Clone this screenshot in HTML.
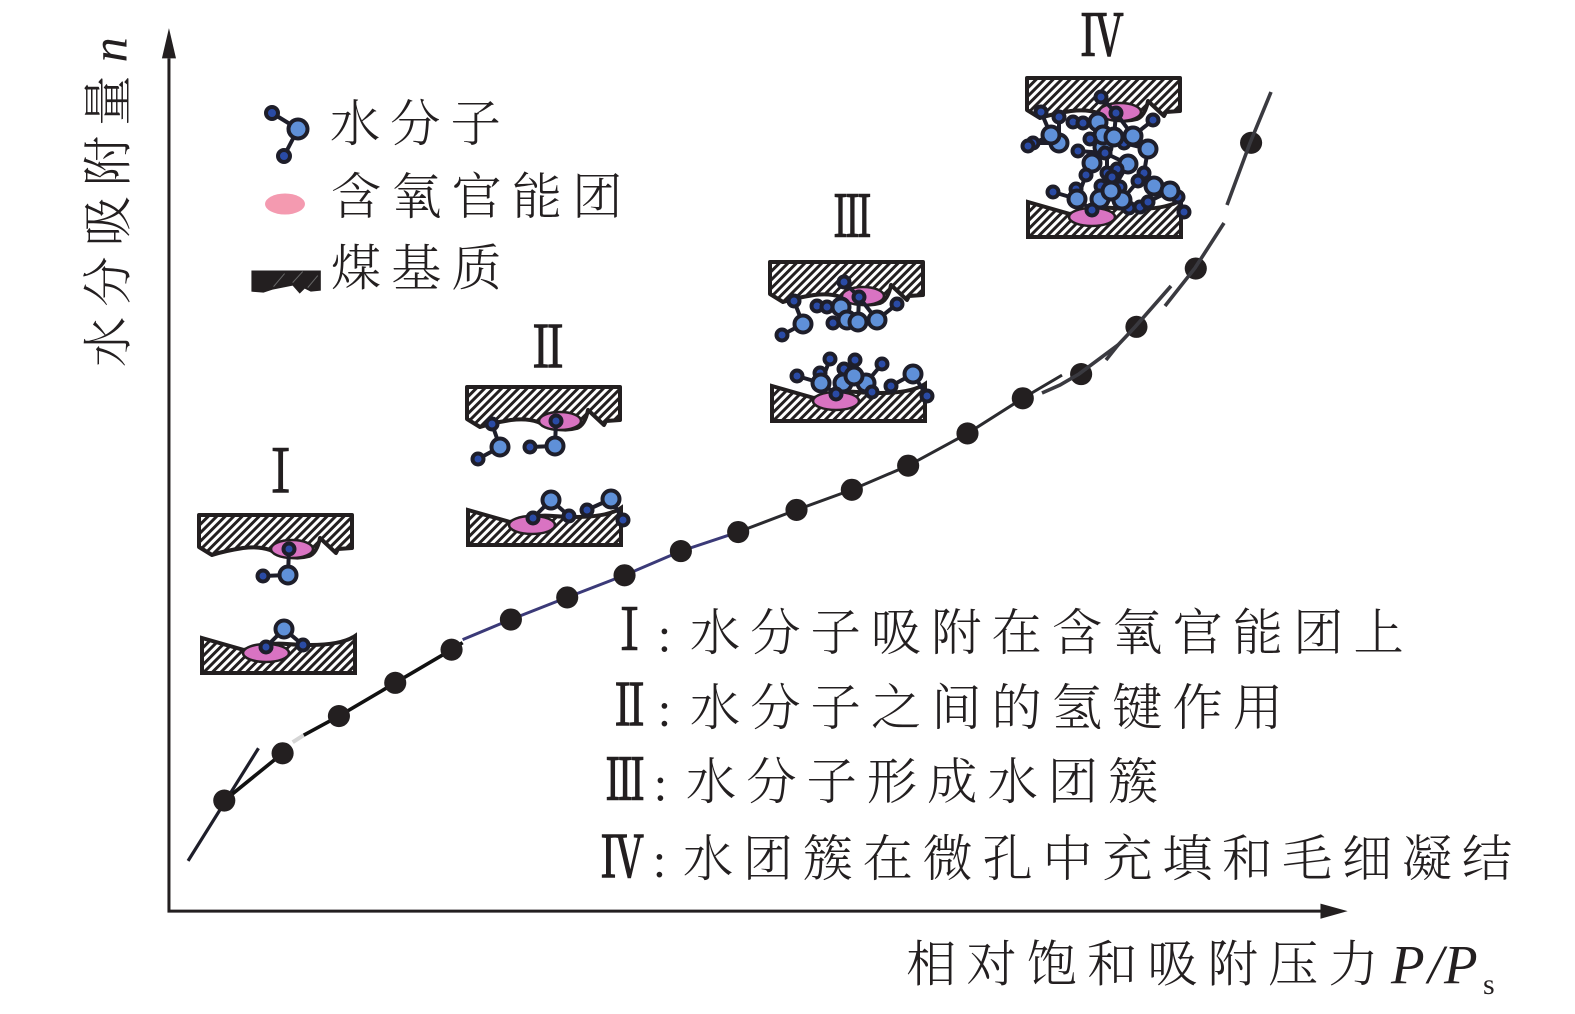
<!DOCTYPE html>
<html><head><meta charset="utf-8">
<style>
html,body{margin:0;padding:0;background:#fff}
svg{display:block}
text{font-family:"Liberation Serif","Noto Serif CJK SC",serif;fill:#231f20}
.c{font-family:"Noto Serif CJK SC","Liberation Serif",serif;font-size:50px;font-weight:300;letter-spacing:10px}
.r{font-size:56px;text-anchor:middle;stroke:#231f20;stroke-width:1.6}
.s{fill:#2a4ba6;stroke:#1e1e2a;stroke-width:4}
.b{fill:#5f90d8;stroke:#1e1e2a;stroke-width:4}
.m .s{r:5.5px}
.m .b{r:8.5px}
.l line{stroke:#1e1e2a;stroke-width:4}
.d circle{fill:#231f20}
</style></head><body>
<svg width="1575" height="1014" viewBox="0 0 1575 1014" xmlns="http://www.w3.org/2000/svg">
<defs>
<pattern id="h" width="6" height="6" patternUnits="userSpaceOnUse" patternTransform="rotate(45)">
<rect width="6" height="6" fill="#fff"/><rect width="3" height="6" fill="#231f20"/></pattern>
<g id="top">
<path d="M0 0H153V33L139 34L137 38L121 23Q118 38 110 41Q92 46 71 35Q60 31 44 33Q25 36 13 40L0 32Z" fill="url(#h)" stroke="#231f20" stroke-width="4" stroke-linejoin="round"/>
<ellipse cx="93" cy="34" rx="21" ry="9" fill="#d973c2" stroke="#231f20" stroke-width="2.5"/>
</g>
<g id="bot">
<path d="M0 0L42 12Q65 4 85 6Q135 10 153 -2V35H0Z" fill="url(#h)" stroke="#231f20" stroke-width="4"/>
<ellipse cx="64" cy="15" rx="23" ry="9" fill="#d973c2" stroke="#231f20" stroke-width="2.5"/>
</g>
</defs>
<rect width="1575" height="1014" fill="#fff"/>

<g transform="scale(1.0057)">
<!-- axes -->
<path d="M168 58V906H1316" fill="none" stroke="#231f20" stroke-width="3"/>
<path d="M168 28L161 58H175Z" fill="#231f20"/>
<path d="M1340 906L1313 898.5V913.5Z" fill="#231f20"/>

<!-- curve -->
<g fill="none">
<path d="M187 856L257 744" stroke="#1e1e2a" stroke-width="3.2"/>
<path d="M223 796L281 749" stroke="#111" stroke-width="3.6"/>
<path d="M291 738L302 731" stroke="#d5d5d5" stroke-width="4"/>
<path d="M302 731L337 712L393 679L449 646L460 639" stroke="#111" stroke-width="3.6"/>
<path d="M460 636L508 616L564 594L621 572L677 548L734 529" stroke="#3b3a78" stroke-width="3"/>
<path d="M734 529L792 507L847 487L903 463L962 431L1017 396L1056 373" stroke="#2b2b2f" stroke-width="3"/>
</g>
<g class="d">
<circle cx="223" cy="796" r="11"/><circle cx="281" cy="749" r="11"/><circle cx="337" cy="712" r="11"/><circle cx="393" cy="679" r="11"/><circle cx="449" cy="646" r="11"/><circle cx="508" cy="616" r="11"/><circle cx="564" cy="594" r="11"/><circle cx="621" cy="572" r="11"/><circle cx="677" cy="548" r="11"/><circle cx="734" cy="529" r="11"/><circle cx="792" cy="507" r="11"/><circle cx="847" cy="487" r="11"/><circle cx="903" cy="463" r="11"/><circle cx="962" cy="431" r="11"/><circle cx="1017" cy="396" r="11"/><circle cx="1075" cy="372" r="11"/><circle cx="1130" cy="325" r="11"/><circle cx="1189" cy="267" r="11"/><circle cx="1244" cy="142" r="11"/>
</g>

<!-- legend shapes -->
<path d="M250 269H319V289L309 290L303 287L298 292L291 284L281 286L271 288L262 291L250 290Z" fill="#231f20"/>
<path d="M272 285L283 272M291 281L301 270M306 286L316 274" stroke="#666" stroke-width="1" fill="none"/>

<!-- labels -->
<text class="c" x="328" y="140">水分子</text>
<text class="c" x="329" y="213">含氧官能团</text>
<text class="c" x="329" y="284">煤基质</text>

<text class="r" transform="translate(279 489) scale(.73 1)" style="font-size:58px">Ⅰ</text>
<text class="r" transform="translate(545 365) scale(.77 1)">Ⅱ</text>
<text class="r" transform="translate(847.5 235) scale(.68 1)">Ⅲ</text>
<text class="r" transform="translate(1096 55) scale(.76 1)">Ⅳ</text>

<text class="r" transform="translate(626 646) scale(.73 1)">Ⅰ</text>
<text class="r" transform="translate(626 721) scale(.74 1)">Ⅱ</text>
<text class="r" transform="translate(621.5 795) scale(.7 1)">Ⅲ</text>
<text class="r" transform="translate(619 872) scale(.76 1)">Ⅳ</text>
<text x="654" y="648" font-size="48">:</text>
<text x="654" y="722" font-size="48">:</text>
<text x="650" y="796" font-size="48">:</text>
<text x="649" y="872" font-size="48">:</text>
<text class="c" x="686" y="646.5">水分子吸附在含氧官能团上</text>
<text class="c" x="686" y="721">水分子之间的氢键作用</text>
<text class="c" x="682" y="794.5">水分子形成水团簇</text>
<text class="c" x="679" y="871" style="letter-spacing:9.6px">水团簇在微孔中充填和毛细凝结</text>

<text class="c" x="901" y="976">相对饱和吸附压力</text>

<text class="c" transform="translate(125 365) rotate(-90)">水分吸附量</text>
<text transform="translate(126 62) rotate(-90)" font-size="50" font-style="italic">n</text>
</g>

<text x="1391" y="983" font-size="55" font-style="italic">P</text>
<text x="1428" y="983" font-size="55" font-style="italic">/</text>
<text x="1444" y="983" font-size="55" font-style="italic">P</text>
<text x="1483" y="994" font-size="30">s</text>

<!-- upper curve -->
<g fill="none" stroke="#3a3a40" stroke-width="3.6">
<path d="M1042 393L1060 385L1079 374L1118 345L1135 327L1171 286"/>
<path d="M1165 306L1195 268L1224 223"/>
<path d="M1106 360L1118 345"/>
<path d="M1227 205L1250 143L1271 92"/>
</g>

<!-- plates -->
<use href="#top" x="199" y="515"/><use href="#bot" x="202" y="638"/>
<use href="#top" x="467" y="387"/><use href="#bot" x="468" y="510"/>
<use href="#top" x="770" y="262"/><use href="#bot" x="772" y="386"/>
<use href="#top" x="1027" y="78"/><use href="#bot" x="1028" y="202"/>

<!-- legend molecule -->
<g class="l"><line x1="272" y1="113" x2="298" y2="129"/><line x1="298" y1="129" x2="284" y2="156"/></g>
<circle class="s" cx="272" cy="113" r="6"/><circle class="b" cx="298" cy="129" r="9.5"/><circle class="s" cx="284" cy="156" r="6"/>
<ellipse cx="285" cy="204" rx="20" ry="10.5" fill="#f49ab0"/>

<g class="m">
<!-- I molecules -->
<g class="l"><line x1="289" y1="549" x2="288" y2="575"/><line x1="288" y1="575" x2="263" y2="576"/><line x1="284" y1="629" x2="266" y2="647"/><line x1="284" y1="629" x2="303" y2="645"/></g>
<circle class="s" cx="289" cy="549" r="5"/><circle class="b" cx="288" cy="575" r="7.5"/><circle class="s" cx="263" cy="576" r="5"/>
<circle class="b" cx="284" cy="629" r="7.5"/><circle class="s" cx="266" cy="647" r="5"/><circle class="s" cx="303" cy="645" r="5"/>

<!-- II molecules -->
<g class="l"><line x1="492" y1="424" x2="500" y2="447"/><line x1="500" y1="447" x2="478" y2="459"/><line x1="530" y1="447" x2="555" y2="446"/><line x1="555" y1="446" x2="556" y2="421"/><line x1="551" y1="500" x2="533" y2="518"/><line x1="551" y1="500" x2="569" y2="516"/><line x1="587" y1="510" x2="611" y2="499"/><line x1="611" y1="499" x2="623" y2="520"/></g>
<circle class="s" cx="492" cy="424" r="5"/><circle class="b" cx="500" cy="447" r="7.5"/><circle class="s" cx="478" cy="459" r="5"/><circle class="s" cx="530" cy="447" r="5"/><circle class="b" cx="555" cy="446" r="7.5"/><circle class="s" cx="556" cy="421" r="5"/>
<circle class="b" cx="551" cy="500" r="8"/><circle class="s" cx="533" cy="518" r="5"/><circle class="s" cx="569" cy="516" r="5"/><circle class="s" cx="587" cy="510" r="5"/><circle class="b" cx="611" cy="499" r="8"/><circle class="s" cx="623" cy="520" r="5"/>

<!-- III molecules -->
<g class="l">
<line x1="794" y1="301" x2="803" y2="324"/><line x1="803" y1="324" x2="782" y2="335"/><line x1="817" y1="306" x2="841" y2="307"/><line x1="841" y1="307" x2="858" y2="322"/><line x1="859" y1="297" x2="858" y2="322"/><line x1="859" y1="297" x2="877" y2="320"/><line x1="877" y1="320" x2="897" y2="304"/><line x1="833" y1="323" x2="847" y2="320"/><line x1="844" y1="282" x2="859" y2="297"/>
<line x1="830" y1="359" x2="821" y2="383"/><line x1="797" y1="376" x2="821" y2="383"/><line x1="821" y1="383" x2="836" y2="394"/><line x1="854" y1="376" x2="855" y2="360"/><line x1="854" y1="376" x2="836" y2="394"/><line x1="854" y1="376" x2="872" y2="392"/><line x1="882" y1="364" x2="866" y2="383"/><line x1="891" y1="386" x2="913" y2="374"/><line x1="913" y1="374" x2="927" y2="396"/>
</g>
<circle class="s" cx="844" cy="282" r="5"/><circle class="s" cx="794" cy="301" r="5"/><circle class="b" cx="803" cy="324" r="7.5"/><circle class="s" cx="782" cy="335" r="5"/><circle class="s" cx="817" cy="306" r="5"/><circle class="s" cx="827" cy="307" r="5"/><circle class="b" cx="841" cy="307" r="7.5"/><circle class="b" cx="847" cy="320" r="7.5"/><circle class="s" cx="833" cy="323" r="5"/><circle class="b" cx="858" cy="322" r="7.5"/><circle class="b" cx="877" cy="320" r="7.5"/><circle class="s" cx="897" cy="304" r="5"/><circle class="s" cx="859" cy="297" r="5"/>
<circle class="s" cx="830" cy="359" r="5"/><circle class="s" cx="797" cy="376" r="5"/><circle class="s" cx="820" cy="373" r="5"/><circle class="b" cx="821" cy="383" r="7.5"/><circle class="s" cx="844" cy="369" r="5"/><circle class="b" cx="843" cy="383" r="7.5"/><circle class="b" cx="866" cy="383" r="7.5"/><circle class="b" cx="854" cy="376" r="7.5"/><circle class="s" cx="855" cy="360" r="5"/><circle class="s" cx="882" cy="364" r="5"/><circle class="s" cx="872" cy="392" r="5"/><circle class="s" cx="891" cy="386" r="5"/><circle class="b" cx="913" cy="374" r="8"/><circle class="s" cx="927" cy="396" r="5"/><circle class="s" cx="836" cy="394" r="5"/>

<!-- IV molecules -->
<g class="l">
<line x1="1041" y1="112" x2="1051" y2="135"/><line x1="1059" y1="117" x2="1059" y2="143"/><line x1="1051" y1="135" x2="1028" y2="146"/><line x1="1059" y1="143" x2="1033" y2="143"/><line x1="1073" y1="122" x2="1098" y2="122"/><line x1="1098" y1="122" x2="1114" y2="137"/><line x1="1116" y1="113" x2="1114" y2="137"/><line x1="1116" y1="113" x2="1133" y2="136"/><line x1="1133" y1="136" x2="1153" y2="120"/><line x1="1090" y1="139" x2="1103" y2="135"/><line x1="1124" y1="143" x2="1148" y2="149"/><line x1="1148" y1="149" x2="1144" y2="173"/><line x1="1078" y1="151" x2="1105" y2="153"/><line x1="1105" y1="153" x2="1092" y2="163"/><line x1="1105" y1="153" x2="1128" y2="164"/><line x1="1092" y1="163" x2="1086" y2="175"/><line x1="1128" y1="164" x2="1117" y2="169"/><line x1="1107" y1="150" x2="1107" y2="173"/><line x1="1086" y1="175" x2="1077" y2="199"/><line x1="1128" y1="164" x2="1112" y2="191"/><line x1="1138" y1="181" x2="1122" y2="200"/><line x1="1154" y1="186" x2="1148" y2="202"/><line x1="1170" y1="191" x2="1178" y2="197"/><line x1="1178" y1="197" x2="1184" y2="212"/><line x1="1053" y1="192" x2="1077" y2="199"/><line x1="1077" y1="199" x2="1092" y2="210"/><line x1="1111" y1="191" x2="1092" y2="210"/><line x1="1111" y1="191" x2="1129" y2="208"/><line x1="1129" y1="208" x2="1148" y2="202"/><line x1="1148" y1="202" x2="1170" y2="191"/><line x1="1101" y1="97" x2="1116" y2="113"/>
</g>
<circle class="s" cx="1101" cy="97" r="5"/><circle class="s" cx="1116" cy="113" r="5"/><circle class="s" cx="1041" cy="112" r="5"/><circle class="s" cx="1059" cy="117" r="5"/><circle class="b" cx="1059" cy="143" r="7.5"/><circle class="b" cx="1051" cy="135" r="7.5"/><circle class="s" cx="1033" cy="143" r="5"/><circle class="s" cx="1028" cy="146" r="5"/><circle class="s" cx="1073" cy="122" r="5"/><circle class="s" cx="1083" cy="123" r="5"/><circle class="b" cx="1098" cy="122" r="7.5"/><circle class="b" cx="1103" cy="147" r="7.5"/><circle class="b" cx="1103" cy="135" r="7.5"/><circle class="s" cx="1090" cy="139" r="5"/><circle class="s" cx="1124" cy="143" r="5"/><circle class="b" cx="1114" cy="137" r="7.5"/><circle class="b" cx="1133" cy="136" r="7.5"/><circle class="s" cx="1153" cy="120" r="5"/><circle class="b" cx="1148" cy="149" r="7.5"/><circle class="s" cx="1105" cy="153" r="5"/><circle class="s" cx="1078" cy="151" r="5"/><circle class="b" cx="1092" cy="163" r="7.5"/><circle class="b" cx="1128" cy="164" r="7.5"/><circle class="s" cx="1086" cy="175" r="5"/><circle class="s" cx="1107" cy="173" r="5"/><circle class="s" cx="1117" cy="169" r="5"/><circle class="s" cx="1112" cy="177" r="5"/><circle class="s" cx="1144" cy="173" r="5"/><circle class="s" cx="1138" cy="181" r="5"/><circle class="s" cx="1178" cy="197" r="5"/><circle class="b" cx="1154" cy="186" r="7.5"/><circle class="b" cx="1170" cy="191" r="7.5"/><circle class="s" cx="1184" cy="212" r="5"/><circle class="s" cx="1140" cy="207" r="5"/><circle class="s" cx="1148" cy="202" r="5"/><circle class="s" cx="1129" cy="208" r="5"/><circle class="s" cx="1053" cy="192" r="5"/><circle class="s" cx="1076" cy="189" r="5"/><circle class="b" cx="1077" cy="199" r="7.5"/><circle class="s" cx="1101" cy="186" r="5"/><circle class="s" cx="1120" cy="187" r="5"/><circle class="b" cx="1100" cy="199" r="7.5"/><circle class="b" cx="1122" cy="200" r="7.5"/><circle class="b" cx="1111" cy="191" r="7.5"/><circle class="s" cx="1092" cy="210" r="5"/>
</g>
</svg>
</body></html>
